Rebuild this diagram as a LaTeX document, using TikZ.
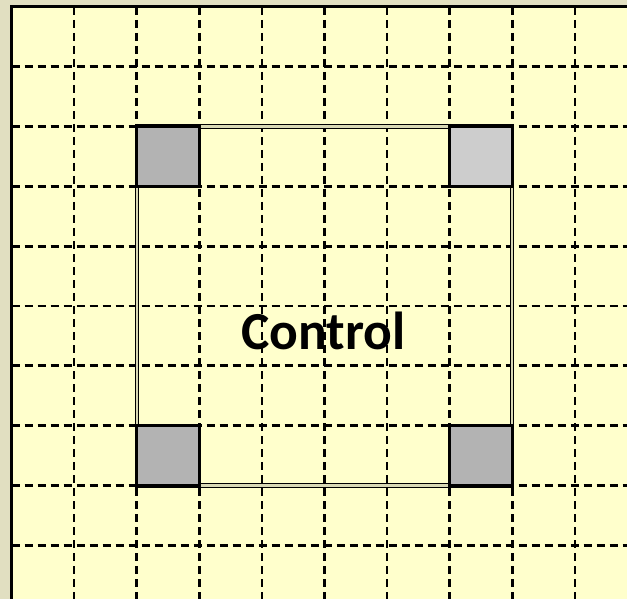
\documentclass[tikz,border=0pt]{standalone}
\usepackage{fontspec}
\setsansfont{Carlito}
\usetikzlibrary{positioning}
\definecolor{paper}{HTML}{FFFFCC}
\definecolor{margin}{HTML}{E1DFC1}
\definecolor{cellgray}{HTML}{B3B3B3}
\definecolor{celllight}{HTML}{CDCDCD}

\begin{document}
\begin{tikzpicture}[x=1pt,y=-1pt,
  gridline/.style={line width=2.7pt,dash pattern=on 8pt off 5pt},
  cell/.style={draw,line width=2.7pt,minimum width=62.6pt,minimum height=59.8pt,inner sep=0pt,outer sep=0pt}]
\useasboundingbox (0,0) rectangle (627,599);
% Sheet
\fill[margin] (0,0) rectangle (627,599);
\fill[paper] (11.5,7) rectangle (640,610);

% Dashed grid
\foreach \i in {1,...,9} {
  \draw[gridline] ({11.5+62.6*\i},7) -- ++(0,600);
  \draw[gridline] (11.5,{7+59.8*\i}) -- ++(630,0);
}

% Frame
\draw[line width=3pt] (11.5,610) -- (11.5,7) -- (640,7);

% Control region
\node[draw,double=paper!70!gray,line width=1pt,double distance=2.2pt,minimum width=375.6pt,minimum height=358.8pt,inner sep=0pt] (region) at (324.5,306) {};

% Corner cells
\node[cell,fill=cellgray,anchor=north west] (nw) at (136.7,126.6) {};
\node[cell,fill=celllight,anchor=north east] (ne) at (512.3,126.6) {};
\node[cell,fill=cellgray,anchor=south west] (sw) at (136.7,485.4) {};
\node[cell,fill=cellgray,anchor=south east] (se) at (512.3,485.4) {};

% Label
\node[font=\sffamily\bfseries\fontsize{53.5}{58}\selectfont,inner sep=0pt] (label) at (323.5,331) {Control};
\end{tikzpicture}
\end{document}
